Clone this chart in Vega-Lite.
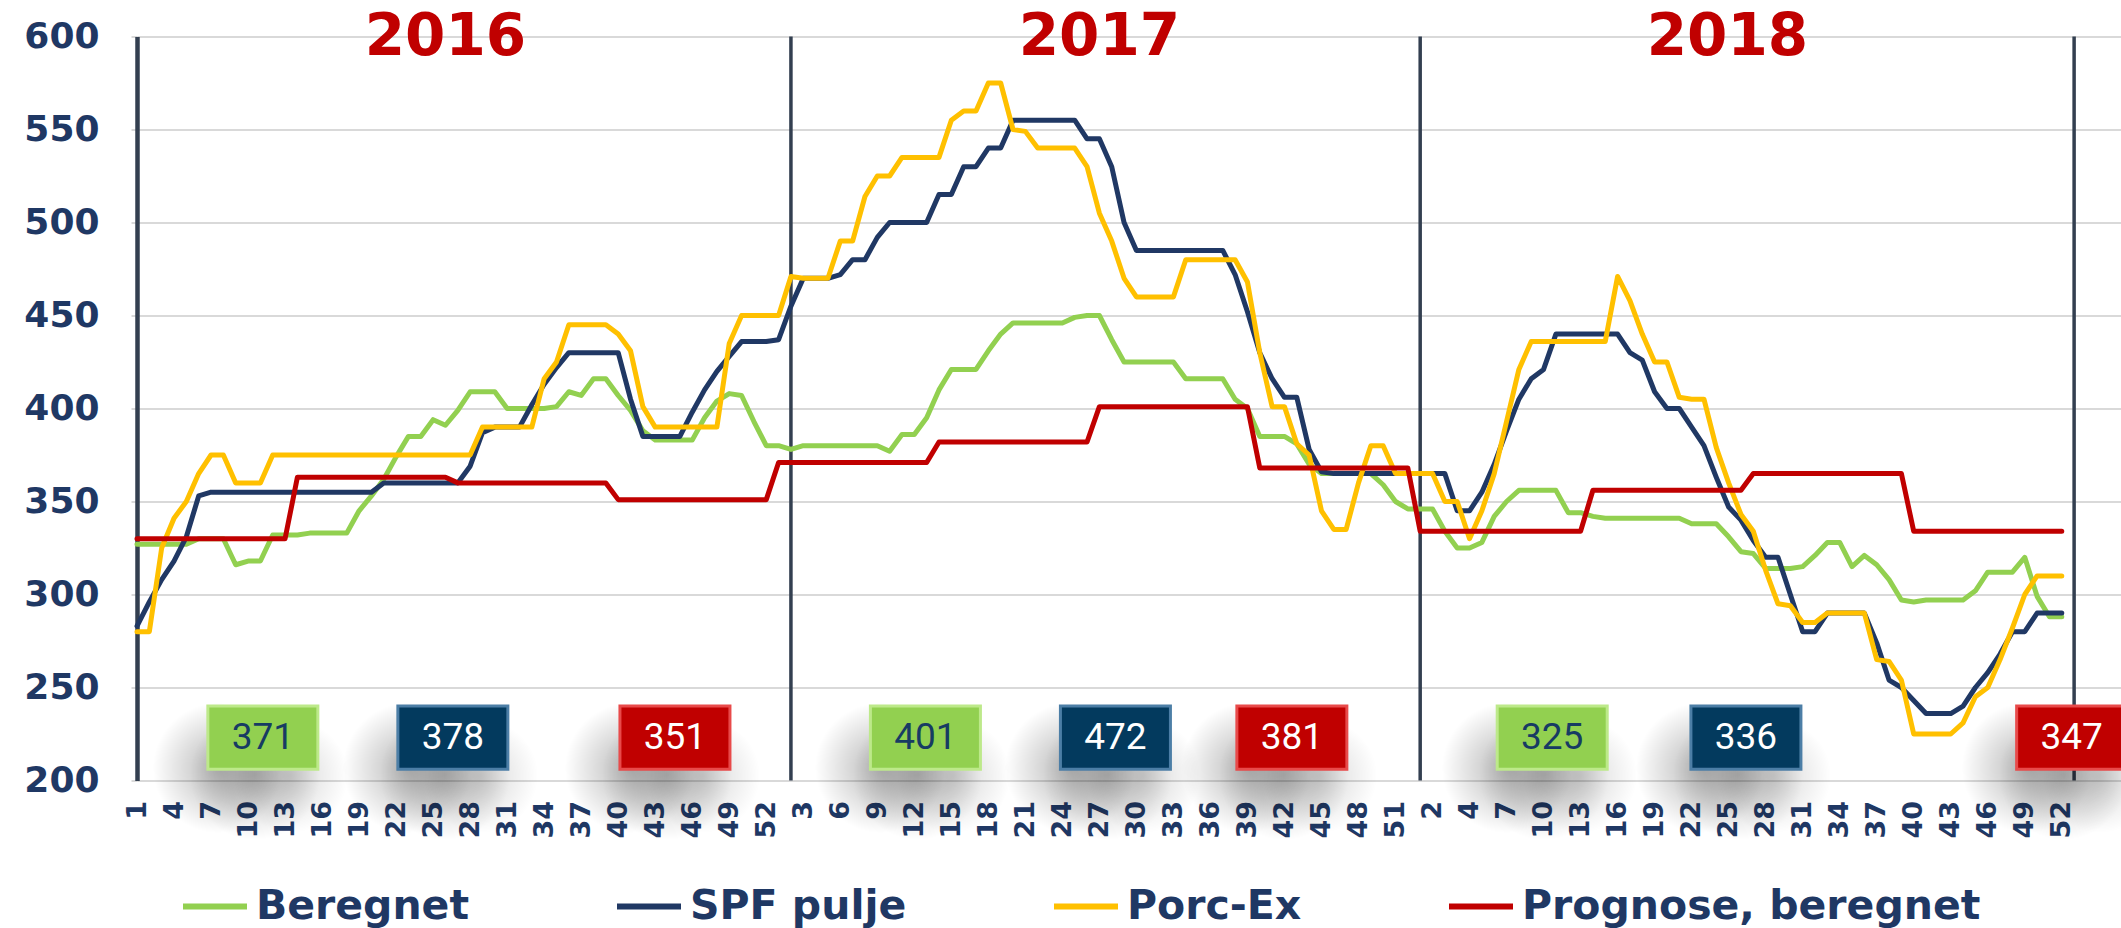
{
  "$schema": "https://vega.github.io/schema/vega-lite/v6.json",
  "width": 1984,
  "height": 744,
  "autosize": {"type": "none"},
  "padding": {"left": 137, "top": 36.5, "right": 0, "bottom": 147.5},
  "background": "white",
  "config": {
    "view": {"stroke": null},
    "axis": {"labelOverlap": false},
    "axisX": {"labelOverlap": false, "labelSeparation": 0},
    "axisY": {"grid": true, "gridColor": "#D9D9D9", "gridWidth": 2, "domain": true, "domainColor": "#333F50", "domainWidth": 4.5, "ticks": true, "tickColor": "#D9D9D9", "tickSize": 6, "tickWidth": 2, "labelFont": "DejaVu Sans", "labelFontWeight": "bold", "labelFontSize": 36, "labelColor": "#1F3864", "labelPadding": 32}
  },
  "datasets": {
    "weeks": [
      {"i":1,"B":327,"S":283,"P":280,"R":330},{"i":2,"B":327,"S":296,"P":280,"R":330},{"i":3,"B":327,"S":308,"P":325,"R":330},{"i":4,"B":327,"S":318,"P":341,"R":330},{"i":5,"B":327,"S":331,"P":350,"R":330},{"i":6,"B":330,"S":353,"P":365,"R":330},{"i":7,"B":330,"S":355,"P":375,"R":330},{"i":8,"B":330,"S":355,"P":375,"R":330},{"i":9,"B":316,"S":355,"P":360,"R":330},{"i":10,"B":318,"S":355,"P":360,"R":330},
      {"i":11,"B":318,"S":355,"P":360,"R":330},{"i":12,"B":332,"S":355,"P":375,"R":330},{"i":13,"B":332,"S":355,"P":375,"R":330},{"i":14,"B":332,"S":355,"P":375,"R":363},{"i":15,"B":333,"S":355,"P":375,"R":363},{"i":16,"B":333,"S":355,"P":375,"R":363},{"i":17,"B":333,"S":355,"P":375,"R":363},{"i":18,"B":333,"S":355,"P":375,"R":363},{"i":19,"B":345,"S":355,"P":375,"R":363},{"i":20,"B":353,"S":355,"P":375,"R":363},
      {"i":21,"B":362,"S":360,"P":375,"R":363},{"i":22,"B":374,"S":360,"P":375,"R":363},{"i":23,"B":385,"S":360,"P":375,"R":363},{"i":24,"B":385,"S":360,"P":375,"R":363},{"i":25,"B":394,"S":360,"P":375,"R":363},{"i":26,"B":391,"S":360,"P":375,"R":363},{"i":27,"B":399,"S":360,"P":375,"R":360},{"i":28,"B":409,"S":369,"P":375,"R":360},{"i":29,"B":409,"S":387,"P":390,"R":360},{"i":30,"B":409,"S":390,"P":390,"R":360},
      {"i":31,"B":400,"S":390,"P":390,"R":360},{"i":32,"B":400,"S":390,"P":390,"R":360},{"i":33,"B":400,"S":402,"P":390,"R":360},{"i":34,"B":400,"S":413,"P":416,"R":360},{"i":35,"B":401,"S":422,"P":425,"R":360},{"i":36,"B":409,"S":430,"P":445,"R":360},{"i":37,"B":407,"S":430,"P":445,"R":360},{"i":38,"B":416,"S":430,"P":445,"R":360},{"i":39,"B":416,"S":430,"P":445,"R":360},{"i":40,"B":407,"S":430,"P":440,"R":351},
      {"i":41,"B":399,"S":405,"P":431,"R":351},{"i":42,"B":388,"S":385,"P":401,"R":351},{"i":43,"B":383,"S":385,"P":390,"R":351},{"i":44,"B":383,"S":385,"P":390,"R":351},{"i":45,"B":383,"S":385,"P":390,"R":351},{"i":46,"B":383,"S":398,"P":390,"R":351},{"i":47,"B":395,"S":410,"P":390,"R":351},{"i":48,"B":404,"S":420,"P":390,"R":351},{"i":49,"B":408,"S":428,"P":435,"R":351},{"i":50,"B":407,"S":436,"P":450,"R":351},
      {"i":51,"B":393,"S":436,"P":450,"R":351},{"i":52,"B":380,"S":436,"P":450,"R":351},{"i":53,"B":380,"S":437,"P":450,"R":371},{"i":54,"B":378,"S":455,"P":471,"R":371},{"i":55,"B":380,"S":470,"P":470,"R":371},{"i":56,"B":380,"S":470,"P":470,"R":371},{"i":57,"B":380,"S":470,"P":470,"R":371},{"i":58,"B":380,"S":472,"P":490,"R":371},{"i":59,"B":380,"S":480,"P":490,"R":371},{"i":60,"B":380,"S":480,"P":514,"R":371},
      {"i":61,"B":380,"S":492,"P":525,"R":371},{"i":62,"B":377,"S":500,"P":525,"R":371},{"i":63,"B":386,"S":500,"P":535,"R":371},{"i":64,"B":386,"S":500,"P":535,"R":371},{"i":65,"B":395,"S":500,"P":535,"R":371},{"i":66,"B":410,"S":515,"P":535,"R":382},{"i":67,"B":421,"S":515,"P":555,"R":382},{"i":68,"B":421,"S":530,"P":560,"R":382},{"i":69,"B":421,"S":530,"P":560,"R":382},{"i":70,"B":431,"S":540,"P":575,"R":382},
      {"i":71,"B":440,"S":540,"P":575,"R":382},{"i":72,"B":446,"S":555,"P":550,"R":382},{"i":73,"B":446,"S":555,"P":549,"R":382},{"i":74,"B":446,"S":555,"P":540,"R":382},{"i":75,"B":446,"S":555,"P":540,"R":382},{"i":76,"B":446,"S":555,"P":540,"R":382},{"i":77,"B":449,"S":555,"P":540,"R":382},{"i":78,"B":450,"S":545,"P":530,"R":382},{"i":79,"B":450,"S":545,"P":505,"R":401},{"i":80,"B":437,"S":530,"P":490,"R":401},
      {"i":81,"B":425,"S":500,"P":470,"R":401},{"i":82,"B":425,"S":485,"P":460,"R":401},{"i":83,"B":425,"S":485,"P":460,"R":401},{"i":84,"B":425,"S":485,"P":460,"R":401},{"i":85,"B":425,"S":485,"P":460,"R":401},{"i":86,"B":416,"S":485,"P":480,"R":401},{"i":87,"B":416,"S":485,"P":480,"R":401},{"i":88,"B":416,"S":485,"P":480,"R":401},{"i":89,"B":416,"S":485,"P":480,"R":401},{"i":90,"B":405,"S":472,"P":480,"R":401},
      {"i":91,"B":400,"S":452,"P":468,"R":401},{"i":92,"B":385,"S":430,"P":430,"R":368},{"i":93,"B":385,"S":416,"P":401,"R":368},{"i":94,"B":385,"S":406,"P":401,"R":368},{"i":95,"B":381,"S":406,"P":381,"R":368},{"i":96,"B":370,"S":378,"P":375,"R":368},{"i":97,"B":365,"S":366,"P":345,"R":368},{"i":98,"B":365,"S":365,"P":335,"R":368},{"i":99,"B":365,"S":365,"P":335,"R":368},{"i":100,"B":365,"S":365,"P":360,"R":368},
      {"i":101,"B":365,"S":365,"P":380,"R":368},{"i":102,"B":359,"S":365,"P":380,"R":368},{"i":103,"B":350,"S":365,"P":365,"R":368},{"i":104,"B":346,"S":365,"P":365,"R":368},{"i":105,"B":346,"S":365,"P":365,"R":334},{"i":106,"B":346,"S":365,"P":365,"R":334},{"i":107,"B":334,"S":365,"P":350,"R":334},{"i":108,"B":325,"S":345,"P":350,"R":334},{"i":109,"B":325,"S":345,"P":330,"R":334},{"i":110,"B":328,"S":355,"P":345,"R":334},
      {"i":111,"B":342,"S":370,"P":365,"R":334},{"i":112,"B":350,"S":388,"P":393,"R":334},{"i":113,"B":356,"S":405,"P":421,"R":334},{"i":114,"B":356,"S":416,"P":436,"R":334},{"i":115,"B":356,"S":421,"P":436,"R":334},{"i":116,"B":356,"S":440,"P":436,"R":334},{"i":117,"B":344,"S":440,"P":436,"R":334},{"i":118,"B":344,"S":440,"P":436,"R":334},{"i":119,"B":342,"S":440,"P":436,"R":356},{"i":120,"B":341,"S":440,"P":436,"R":356},
      {"i":121,"B":341,"S":440,"P":471,"R":356},{"i":122,"B":341,"S":430,"P":458,"R":356},{"i":123,"B":341,"S":426,"P":440,"R":356},{"i":124,"B":341,"S":409,"P":425,"R":356},{"i":125,"B":341,"S":400,"P":425,"R":356},{"i":126,"B":341,"S":400,"P":406,"R":356},{"i":127,"B":338,"S":390,"P":405,"R":356},{"i":128,"B":338,"S":380,"P":405,"R":356},{"i":129,"B":338,"S":363,"P":379,"R":356},{"i":130,"B":331,"S":347,"P":360,"R":356},
      {"i":131,"B":323,"S":340,"P":343,"R":356},{"i":132,"B":322,"S":329,"P":334,"R":365},{"i":133,"B":314,"S":320,"P":313,"R":365},{"i":134,"B":314,"S":320,"P":295,"R":365},{"i":135,"B":314,"S":300,"P":294,"R":365},{"i":136,"B":315,"S":280,"P":285,"R":365},{"i":137,"B":321,"S":280,"P":285,"R":365},{"i":138,"B":328,"S":290,"P":290,"R":365},{"i":139,"B":328,"S":290,"P":290,"R":365},{"i":140,"B":315,"S":290,"P":290,"R":365},
      {"i":141,"B":321,"S":290,"P":290,"R":365},{"i":142,"B":316,"S":274,"P":265,"R":365},{"i":143,"B":308,"S":254,"P":264,"R":365},{"i":144,"B":297,"S":250,"P":254,"R":365},{"i":145,"B":296,"S":243,"P":225,"R":334},{"i":146,"B":297,"S":236,"P":225,"R":334},{"i":147,"B":297,"S":236,"P":225,"R":334},{"i":148,"B":297,"S":236,"P":225,"R":334},{"i":149,"B":297,"S":240,"P":231,"R":334},{"i":150,"B":302,"S":250,"P":245,"R":334},
      {"i":151,"B":312,"S":258,"P":250,"R":334},{"i":152,"B":312,"S":268,"P":265,"R":334},{"i":153,"B":312,"S":280,"P":282,"R":334},{"i":154,"B":320,"S":280,"P":300,"R":334},{"i":155,"B":299,"S":290,"P":310,"R":334},{"i":156,"B":288,"S":290,"P":310,"R":334},{"i":157,"B":288,"S":290,"P":310,"R":334}
    ],
    "avg": [
      {"s":"Beregnet","v":"371","i":11.2},{"s":"SPF pulje","v":"378","i":26.6},{"s":"Prognose, beregnet","v":"351","i":44.6},
      {"s":"Beregnet","v":"401","i":64.9},{"s":"SPF pulje","v":"472","i":80.3},{"s":"Prognose, beregnet","v":"381","i":94.6},
      {"s":"Beregnet","v":"325","i":115.7},{"s":"SPF pulje","v":"336","i":131.4},{"s":"Prognose, beregnet","v":"347","i":157.8}
    ],
    "years": [{"year":"2016","i":26},{"year":"2017","i":79},{"year":"2018","i":129.9}],
    "seps": [{"i":54},{"i":105},{"i":158}]
  },
  "encoding": {
    "x": {"field": "i", "type": "quantitative", "title": null, "scale": {"domain": [1, 161.8], "nice": false, "zero": false},
          "axis": {"values": [1,4,7,10,13,16,19,22,25,28,31,34,37,40,43,46,49,52,55,58,61,64,67,70,73,76,79,82,85,88,91,94,97,100,103,106,109,112,115,118,121,124,127,130,133,136,139,142,145,148,151,154,157],
                   "labelExpr": "'' + (datum.value <= 52 ? datum.value : datum.value <= 104 ? datum.value - 52 : datum.value <= 106 ? datum.value - 104 : datum.value - 105)",
                   "grid": false, "domain": false, "ticks": false, "labelAngle": 270, "labelAlign": "right", "labelBaseline": "middle", "labelFont": "DejaVu Sans", "labelFontWeight": "bold", "labelFontSize": 27, "labelColor": "#1F3864", "labelPadding": 20, "labelOverlap": false, "labelSeparation": 0, "labelBound": false, "labelFlush": false}}
  },
  "layer": [
    {
      "data": {"name": "seps"},
      "mark": {"type": "rule", "color": "#333F50", "strokeWidth": 3.5},
      "encoding": {
        "y": {"datum": 200, "type": "quantitative", "scale": {"domain": [200, 600], "nice": false, "zero": false}},
        "y2": {"datum": 600}
      }
    },
    {
      "data": {"name": "weeks"},
      "mark": {"type": "line", "strokeWidth": 5, "strokeJoin": "round", "strokeCap": "round"},
      "encoding": {
        "y": {"field": "B", "type": "quantitative", "title": null, "scale": {"domain": [200, 600], "nice": false, "zero": false},
              "axis": {"values": [200,250,300,350,400,450,500,550,600]}},
        "color": {"datum": "Beregnet", "type": "nominal",
                  "scale": {"domain": ["Beregnet", "SPF pulje", "Porc-Ex", "Prognose, beregnet"], "range": ["#92D050", "#203864", "#FFC000", "#C00000"]},
                  "legend": {"title": null, "orient": "none", "legendX": 43, "legendY": 835, "direction": "horizontal", "columns": 4,
                             "symbolType": "stroke", "symbolSize": 4096, "symbolStrokeWidth": 6, "labelFont": "DejaVu Sans", "labelFontWeight": "bold",
                             "labelFontSize": 41, "labelColor": "#1F3864", "labelOffset": 6, "columnPadding": 135, "labelLimit": 1000, "padding": 0}}
      }
    },
    {
      "data": {"name": "weeks"},
      "mark": {"type": "line", "strokeWidth": 5, "strokeJoin": "round", "strokeCap": "round"},
      "encoding": {
        "y": {"field": "S", "type": "quantitative", "title": null, "scale": {"domain": [200, 600], "nice": false, "zero": false}},
        "color": {"datum": "SPF pulje", "type": "nominal"}
      }
    },
    {
      "data": {"name": "weeks"},
      "mark": {"type": "line", "strokeWidth": 5, "strokeJoin": "round", "strokeCap": "round"},
      "encoding": {
        "y": {"field": "P", "type": "quantitative", "title": null, "scale": {"domain": [200, 600], "nice": false, "zero": false}},
        "color": {"datum": "Porc-Ex", "type": "nominal"}
      }
    },
    {
      "data": {"name": "weeks"},
      "mark": {"type": "line", "strokeWidth": 5, "strokeJoin": "round", "strokeCap": "round"},
      "encoding": {
        "y": {"field": "R", "type": "quantitative", "title": null, "scale": {"domain": [200, 600], "nice": false, "zero": false}},
        "color": {"datum": "Prognose, beregnet", "type": "nominal"}
      }
    },
    {
      "data": {"name": "avg"},
      "mark": {"type": "point", "filled": true, "opacity": 1, "shape": "M-1,-1H1V1H-1Z", "size": 16900, "xOffset": -45, "yOffset": 30,
               "fill": {"gradient": "radial", "stops": [{"offset": 0, "color": "rgba(0,0,0,0.27)"}, {"offset": 0.5, "color": "rgba(0,0,0,0.14)"}, {"offset": 1, "color": "rgba(0,0,0,0)"}]}},
      "encoding": {
        "y": {"datum": 223, "type": "quantitative", "scale": {"domain": [200, 600], "nice": false, "zero": false}}
      }
    },
    {
      "data": {"name": "avg"},
      "mark": {"type": "point", "filled": true, "opacity": 1, "shape": "M-1,-1H1V1H-1Z", "size": 16900, "xOffset": -8, "yOffset": 37,
               "fill": {"gradient": "radial", "stops": [{"offset": 0, "color": "rgba(0,0,0,0.24)"}, {"offset": 0.5, "color": "rgba(0,0,0,0.12)"}, {"offset": 1, "color": "rgba(0,0,0,0)"}]}},
      "encoding": {
        "y": {"datum": 223, "type": "quantitative", "scale": {"domain": [200, 600], "nice": false, "zero": false}}
      }
    },
    {
      "data": {"name": "avg"},
      "mark": {"type": "point", "filled": true, "opacity": 1, "shape": "M-1,-1H1V1H-1Z", "size": 13000, "xOffset": 28, "yOffset": 38,
               "fill": {"gradient": "radial", "stops": [{"offset": 0, "color": "rgba(0,0,0,0.16)"}, {"offset": 0.5, "color": "rgba(0,0,0,0.08)"}, {"offset": 1, "color": "rgba(0,0,0,0)"}]}},
      "encoding": {
        "y": {"datum": 223, "type": "quantitative", "scale": {"domain": [200, 600], "nice": false, "zero": false}}
      }
    },
    {
      "data": {"name": "avg"},
      "mark": {"type": "point", "filled": true, "opacity": 1, "shape": "M-1,-0.575H1V0.575H-1Z", "size": 12100, "strokeWidth": 3, "strokeOpacity": 1},
      "encoding": {
        "y": {"datum": 223, "type": "quantitative", "scale": {"domain": [200, 600], "nice": false, "zero": false}},
        "fill": {"field": "s", "type": "nominal", "legend": null, "scale": {"domain": ["Beregnet", "SPF pulje", "Prognose, beregnet"], "range": ["#92D050", "#033A5E", "#C00000"]}},
        "stroke": {"field": "s", "type": "nominal", "legend": null, "scale": {"domain": ["Beregnet", "SPF pulje", "Prognose, beregnet"], "range": ["#BDE98A", "#4C7EA6", "#E84A4A"]}}
      }
    },
    {
      "data": {"name": "avg"},
      "transform": [{"filter": "datum.s == 'Beregnet'"}],
      "mark": {"type": "text", "font": "Roboto", "fontSize": 37, "color": "#173B63", "baseline": "middle", "align": "center"},
      "encoding": {
        "y": {"datum": 223, "type": "quantitative", "scale": {"domain": [200, 600], "nice": false, "zero": false}},
        "text": {"field": "v"}
      }
    },
    {
      "data": {"name": "avg"},
      "transform": [{"filter": "datum.s != 'Beregnet'"}],
      "mark": {"type": "text", "font": "Roboto", "fontSize": 37, "color": "#FFFFFF", "baseline": "middle", "align": "center"},
      "encoding": {
        "y": {"datum": 223, "type": "quantitative", "scale": {"domain": [200, 600], "nice": false, "zero": false}},
        "text": {"field": "v"}
      }
    },
    {
      "data": {"name": "years"},
      "mark": {"type": "text", "font": "DejaVu Sans", "fontWeight": "bold", "fontSize": 58, "color": "#C00000", "baseline": "alphabetic", "align": "center"},
      "encoding": {
        "y": {"datum": 590, "type": "quantitative", "scale": {"domain": [200, 600], "nice": false, "zero": false}},
        "text": {"field": "year"}
      }
    }
  ]
}
